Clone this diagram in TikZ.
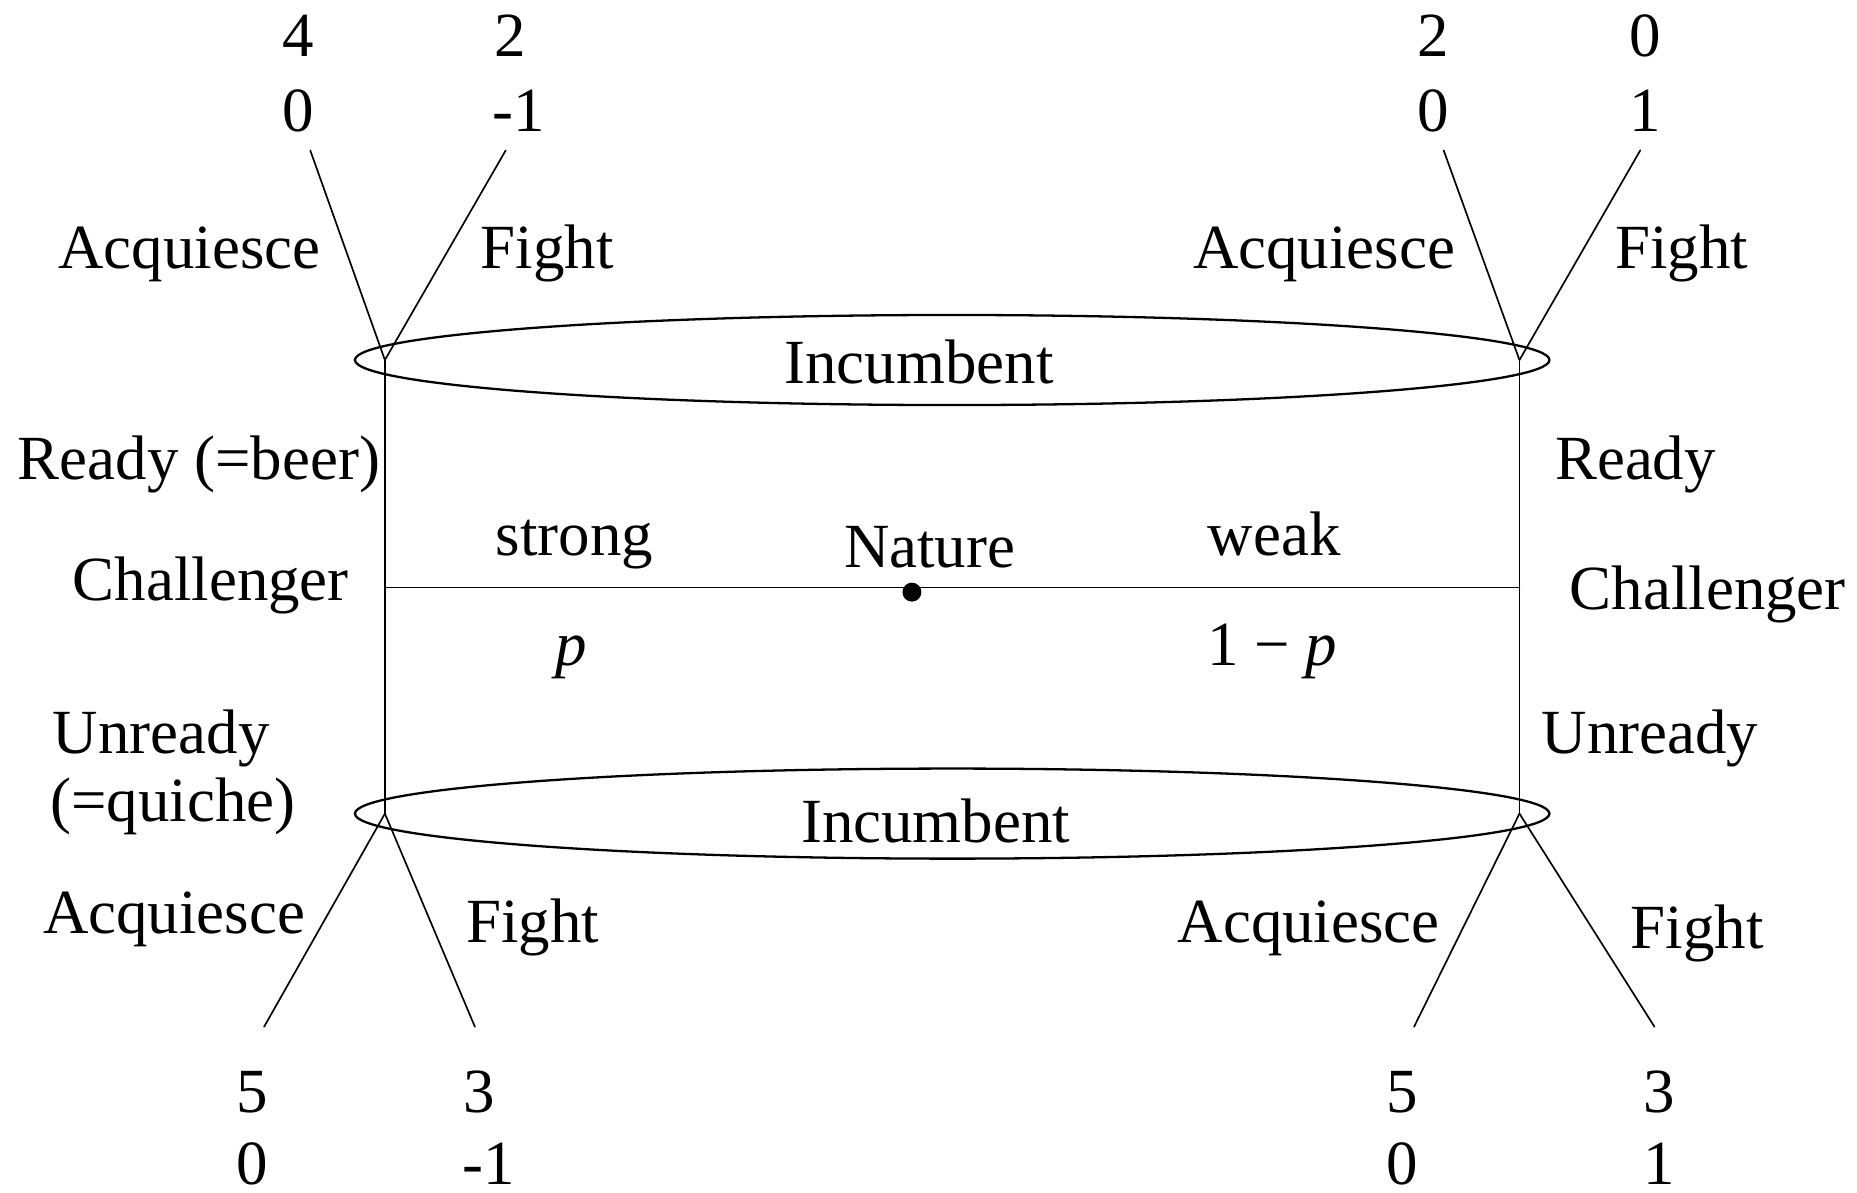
\documentclass[tikz,border=0pt]{standalone}
\usepackage{fontspec}
\setmainfont{Liberation Serif}
\begin{document}
\begin{tikzpicture}[x=0.01cm, y=-0.01cm,
  lbl/.style={font=\fontsize{15.1}{18}\selectfont, inner sep=0pt, anchor=base},
  lblw/.style={lbl, anchor=base west},
  branch/.style={line width=0.4pt, line cap=round},
  infoset/.style={line width=0.55pt}]
\useasboundingbox (0,0) rectangle (1568,1007);

% decision nodes of the challenger and the incumbent
\coordinate (TL) at (325,304);
\coordinate (TR) at (1283,304);
\coordinate (BL) at (325,687);
\coordinate (BR) at (1283,687);
\coordinate (CL) at (325,496);
\coordinate (CR) at (1283,496);

% terminal ends of the incumbent's branches
\coordinate (tlA) at (262,127);
\coordinate (tlF) at (427,127);
\coordinate (trA) at (1219,127);
\coordinate (trF) at (1385,127);
\coordinate (blA) at (223,867);
\coordinate (blF) at (401,867);
\coordinate (brA) at (1194,867);
\coordinate (brF) at (1397,867);

% information sets of the incumbent
\draw[infoset] (804,304) ellipse [x radius=5.04cm, y radius=0.38cm];
\draw[infoset] (804,687) ellipse [x radius=5.04cm, y radius=0.38cm];
\node[lbl] (incT) at (776,324) {Incumbent};
\node[lbl] (incB) at (790,711) {Incumbent};

% nature's move
\node[circle, fill, inner sep=0pt, minimum size=0.16cm] (nature) at (770,500) {};
\node[lbl] (natureL) at (785,479) {Nature};
\draw[branch] (CL) -- (CR);
\node[lbl] (strong) at (485,469) {strong};
\node[lbl] (weak) at (1076,469) {weak};
\node[lbl] (pL) at (482,562) {\textit{p}};
\node[lbl] (pR) at (1074,562) {1 − \textit{p}};

% challenger's moves
\draw[branch] (TL) -- (BL);
\draw[branch] (TR) -- (BR);
\node[lbl] (readyL) at (168,405) {Ready (=beer)};
\node[lbl] (chalL) at (178,507) {Challenger};
\node[lblw] (unreadyL) at (44,636) {Unready};
\node[lblw] (quiche) at (42,694) {(=quiche)};
\node[lbl] (readyR) at (1381,405) {Ready};
\node[lbl] (chalR) at (1442,515) {Challenger};
\node[lblw] (unreadyR) at (1301,636) {Unready};

% incumbent's moves after Ready
\draw[branch] (TL) -- (tlA);
\draw[branch] (TL) -- (tlF);
\draw[branch] (TR) -- (trA);
\draw[branch] (TR) -- (trF);
\node[lbl] (aqTL) at (160,227) {Acquiesce};
\node[lbl] (fTL) at (462,227) {Fight};
\node[lbl] (aqTR) at (1118,227) {Acquiesce};
\node[lbl] (fTR) at (1420,227) {Fight};

% incumbent's moves after Unready
\draw[branch] (BL) -- (blA);
\draw[branch] (BL) -- (blF);
\draw[branch] (BR) -- (brA);
\draw[branch] (BR) -- (brF);
\node[lbl] (aqBL) at (147,788) {Acquiesce};
\node[lbl] (fBL) at (450,796) {Fight};
\node[lbl] (aqBR) at (1105,796) {Acquiesce};
\node[lbl] (fBR) at (1433,801) {Fight};

% payoffs (challenger above, incumbent below)
\node[lbl] (u1) at (252,48) {4};
\node[lbl] (v1) at (252,111) {0};
\node[lbl] (u2) at (431,48) {2};
\node[lbl] (v2) at (438,111) {-1};
\node[lbl] (u3) at (1210,48) {2};
\node[lbl] (v3) at (1210,111) {0};
\node[lbl] (u4) at (1389,48) {0};
\node[lbl] (v4) at (1389,111) {1};
\node[lbl] (u5) at (213,939) {5};
\node[lbl] (v5) at (213,1000) {0};
\node[lbl] (u6) at (405,939) {3};
\node[lbl] (v6) at (413,1000) {-1};
\node[lbl] (u7) at (1184,939) {5};
\node[lbl] (v7) at (1184,1000) {0};
\node[lbl] (u8) at (1401,939) {3};
\node[lbl] (v8) at (1401,1000) {1};
\end{tikzpicture}
\end{document}
